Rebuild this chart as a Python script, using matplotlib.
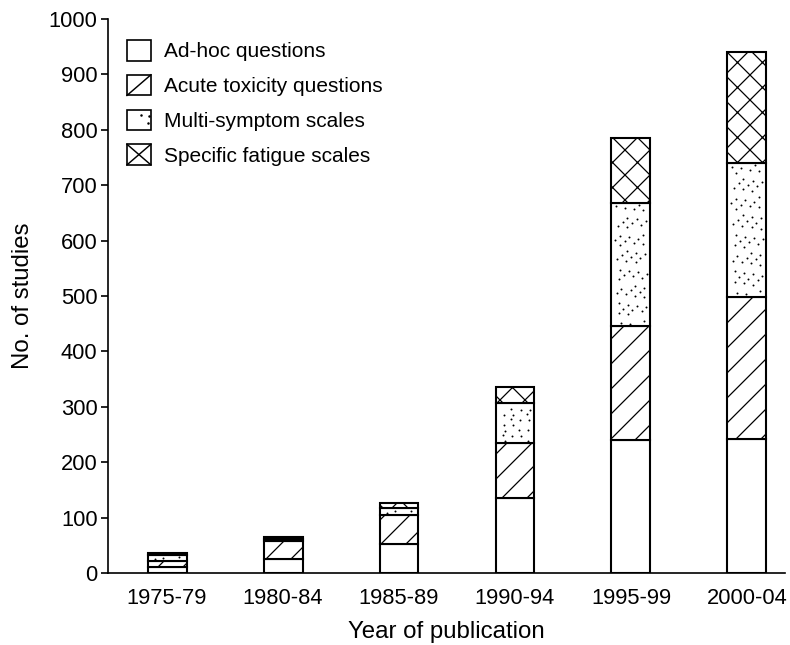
import matplotlib
matplotlib.use("Agg")
import matplotlib.pyplot as plt
import numpy as np
from matplotlib.patches import Patch, Rectangle
from matplotlib.lines import Line2D
from matplotlib.legend_handler import HandlerBase

plt.rcParams['font.family'] = ['Liberation Sans', 'DejaVu Sans']
plt.rcParams['hatch.linewidth'] = 0.6
plt.rcParams['hatch.color'] = 'black'

categories = ['1975-79', '1980-84', '1985-89', '1990-94', '1995-99', '2000-04']
series_names = ['Ad-hoc questions', 'Acute toxicity questions',
                'Multi-symptom scales', 'Specific fatigue scales']
adhoc = [11, 25, 52, 135, 240, 242]
acute = [11, 33, 53, 99, 205, 257]
multi = [10, 4, 12, 72, 223, 241]
fatigue = [5, 3, 10, 29, 117, 200]
yticks = [0, 100, 200, 300, 400, 500, 600, 700, 800, 900, 1000]

series = [adhoc, acute, multi, fatigue]
hatches = ['', '//', '', 'xx']
bar_w = 0.336

dpi = 150
fig = plt.figure(figsize=(790 / dpi, 645 / dpi), dpi=dpi)
ax = fig.add_axes([108 / 790, 72 / 645, 677 / 790, 554 / 645])

x = np.arange(len(categories))
bottom = np.zeros(len(categories))
bottoms = []
for vals, h in zip(series, hatches):
    bottoms.append(bottom.copy())
    ax.bar(x, vals, width=bar_w, bottom=bottom, facecolor='white',
           edgecolor='black', hatch=h, linewidth=1.0, zorder=2)
    bottom += np.array(vals)

# stipple texture for the multi-symptom segments (deterministic pattern)
a1, a2 = 0.7548776662, 0.5698402910
for xi, b, h in zip(x, bottoms[2], multi):
    n = max(1, int(round(0.27 * h)))
    i = np.arange(n)
    u = (0.37 + a1 * i) % 1.0
    v = (0.61 + a2 * i) % 1.0
    px = xi - bar_w / 2 + 0.03 + u * (bar_w - 0.06)
    py = b + min(3, h * 0.2) + v * (h - 2 * min(3, h * 0.2))
    ax.scatter(px, py, s=0.9, color='black', linewidths=0, zorder=3)

ax.set_xlim(-0.509, 5.328)
ax.set_ylim(0, 1000)
ax.set_xticks(x)
ax.set_xticklabels(categories)
ax.set_yticks(yticks)
ax.tick_params(axis='x', length=0, pad=7, labelsize=10.5)
ax.tick_params(axis='y', length=3.5, width=0.8, pad=1.5, labelsize=10.5)
for s in ['top', 'right']:
    ax.spines[s].set_visible(False)
for s in ['left', 'bottom']:
    ax.spines[s].set_linewidth(0.8)

ax.set_xlabel('Year of publication', fontsize=11.5, labelpad=6)
ax.set_ylabel('No. of studies', fontsize=11.5, labelpad=7)


class BoxHandler(HandlerBase):
    def __init__(self, kind):
        super().__init__()
        self.kind = kind

    def create_artists(self, legend, orig_handle, xdescent, ydescent,
                       width, height, fontsize, trans):
        x0, y0 = -xdescent, -ydescent
        arts = [Rectangle((x0, y0), width, height, facecolor='white',
                          edgecolor='black', linewidth=0.8, transform=trans)]
        if self.kind == 'diag':
            arts.append(Line2D([x0, x0 + width], [y0, y0 + height], color='black',
                               linewidth=0.7, transform=trans))
        elif self.kind == 'cross':
            arts.append(Line2D([x0, x0 + width], [y0, y0 + height], color='black',
                               linewidth=0.7, transform=trans))
            arts.append(Line2D([x0, x0 + width], [y0 + height, y0], color='black',
                               linewidth=0.7, transform=trans))
        elif self.kind == 'dots':
            fx = [0.6, 0.9, 0.87]
            fy = [0.73, 0.67, 0.33]
            arts.append(Line2D([x0 + f * width for f in fx],
                               [y0 + f * height for f in fy], linestyle='',
                               marker='o', markersize=1.2, markeredgewidth=0,
                               color='black', transform=trans))
        return arts


kinds = ['plain', 'diag', 'dots', 'cross']
handles = [Patch(facecolor='white', edgecolor='black', label=n) for n in series_names]
hmap = {hd: BoxHandler(k) for hd, k in zip(handles, kinds)}
ax.legend(handles, series_names, loc='upper left', bbox_to_anchor=(0.028, 0.962),
          frameon=False, fontsize=10, handlelength=1.15, handleheight=1.15,
          labelspacing=0.64, handletextpad=0.65, borderpad=0, borderaxespad=0,
          handler_map=hmap)

fig.savefig('out.png', dpi=dpi)
